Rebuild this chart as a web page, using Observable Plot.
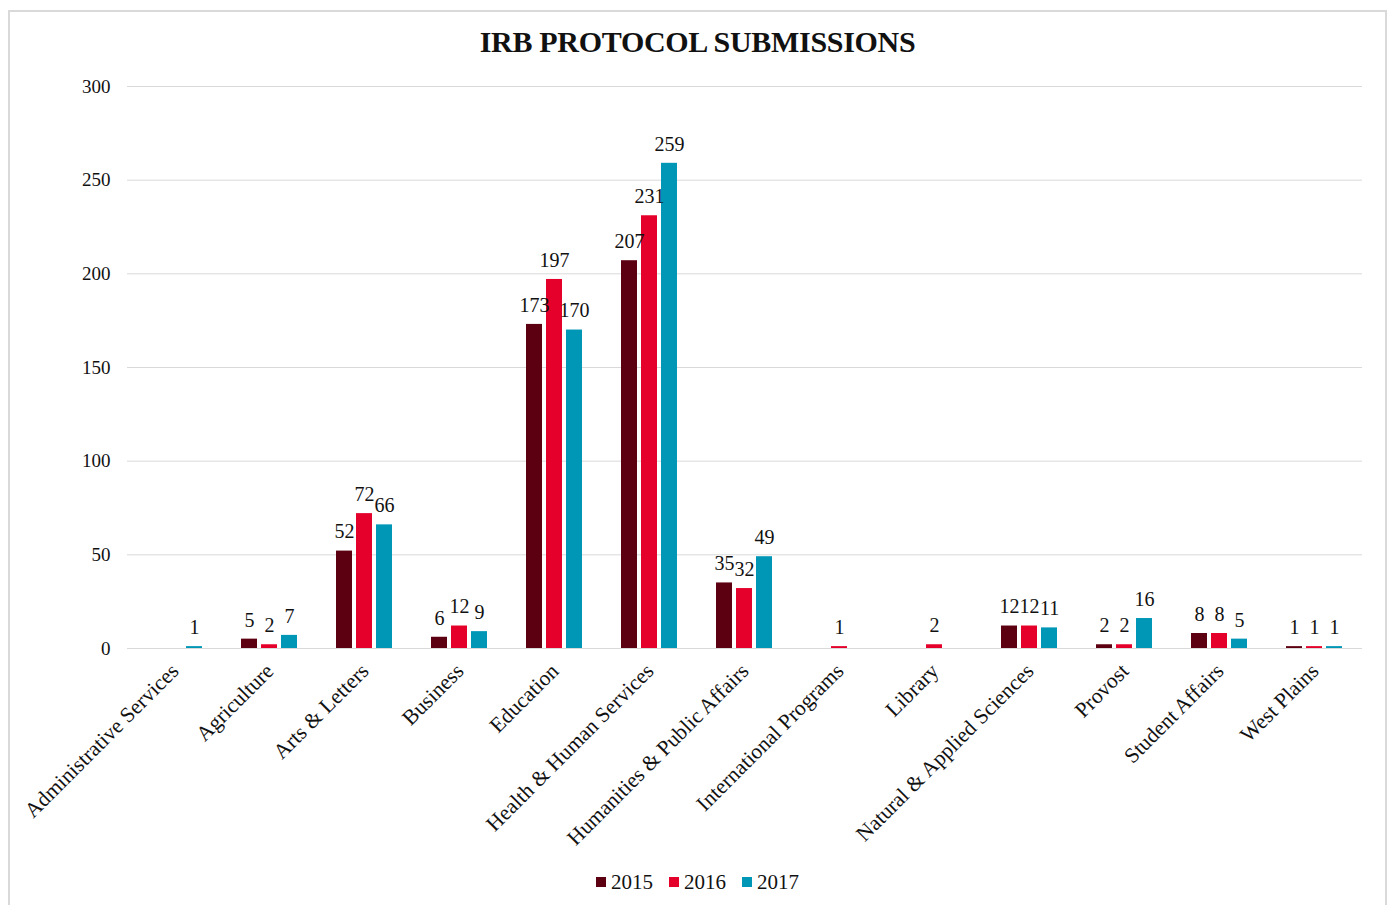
<!DOCTYPE html>
<html>
<head>
<meta charset="utf-8">
<script src="https://cdn.jsdelivr.net/npm/d3@7"></script>
<script src="https://cdn.jsdelivr.net/npm/@observablehq/plot@0.6"></script>
<style>
  html, body { margin: 0; padding: 0; background: #fff; }
  #frame {
    position: absolute; left: 8px; top: 10px; width: 1375px; height: 905px;
    border: 2px solid #d9d9d9; border-bottom: none; background: #fff;
    font-family: "Liberation Serif", "DejaVu Serif", serif;
  }
  #title {
    position: absolute; left: 0; right: 0; top: 13px; text-align: center;
    font-size: 30px; font-weight: bold; color: #111; letter-spacing: -0.3px;
  }
  #chart { position: absolute; left: 0; top: 38px; }
  #legend {
    position: absolute; left: 0; right: 0; top: 858px; text-align: center;
    font-size: 21px; color: #111;
  }
  #legend span.item { margin: 0 8px; }
  #legend span.sw { display: inline-block; width: 10px; height: 10px; margin-right: 5px; vertical-align: 2px; }
</style>
</head>
<body>
<div id="frame">
  <div id="title">IRB PROTOCOL SUBMISSIONS</div>
  <div id="chart"></div>
  <div id="legend"></div>
</div>
<script>
const categories = [
  "Administrative Services", "Agriculture", "Arts & Letters", "Business", "Education",
  "Health & Human Services", "Humanities & Public Affairs", "International Programs",
  "Library", "Natural & Applied Sciences", "Provost", "Student Affairs", "West Plains"
];
const years = ["2015", "2016", "2017"];
const values2015 = [null, 5, 52, 6, 173, 207, 35, null, null, 12, 2, 8, 1];
const values2016 = [null, 2, 72, 12, 197, 231, 32, 1, 2, 12, 2, 8, 1];
const values2017 = [1, 7, 66, 9, 170, 259, 49, null, null, 11, 16, 5, 1];
const colors = ["#5c0011", "#e4002b", "#0096b6"];
const yTicks = [0, 50, 100, 150, 200, 250, 300];

const series = [values2015, values2016, values2017];
const data = [];
categories.forEach((c, i) => {
  years.forEach((y, j) => {
    const v = series[j][i];
    if (v != null) data.push({category: c, year: y, value: v});
  });
});

const fontFamily = '"Liberation Serif", "DejaVu Serif", serif';

const chart = Plot.plot({
  width: 1372,
  height: 828,
  marginTop: 36,
  marginBottom: 230,
  marginLeft: 117,
  marginRight: 20,
  style: {fontFamily, fontSize: "19px", color: "#111", background: "transparent"},
  fx: {domain: categories, padding: 0, label: null},
  x: {domain: years, paddingInner: 0.19, paddingOuter: 0.857, axis: null},
  y: {domain: [0, 300], label: null},
  color: {domain: years, range: colors},
  marks: [
    Plot.gridY(yTicks, {stroke: "#d9d9d9", strokeOpacity: 1, strokeWidth: 1}),
    Plot.axisY(yTicks, {tickSize: 0, tickPadding: 17, fontSize: 19, label: null}),
    Plot.axisFx({anchor: "bottom", tickRotate: -45, tickSize: 0, tickPadding: 19, fontSize: 21.5, label: null}),
    Plot.barY(data, {fx: "category", x: "year", y: "value", fill: "year"}),
    Plot.text(data, {fx: "category", x: "year", y: "value", text: d => String(d.value), dy: -19, fontSize: 20, fill: "#111"})
  ]
});
document.getElementById("chart").appendChild(chart);

const legend = document.getElementById("legend");
years.forEach((y, j) => {
  const item = document.createElement("span");
  item.className = "item";
  const sw = document.createElement("span");
  sw.className = "sw";
  sw.style.background = colors[j];
  item.appendChild(sw);
  item.appendChild(document.createTextNode(y));
  legend.appendChild(item);
});
</script>
</body>
</html>
